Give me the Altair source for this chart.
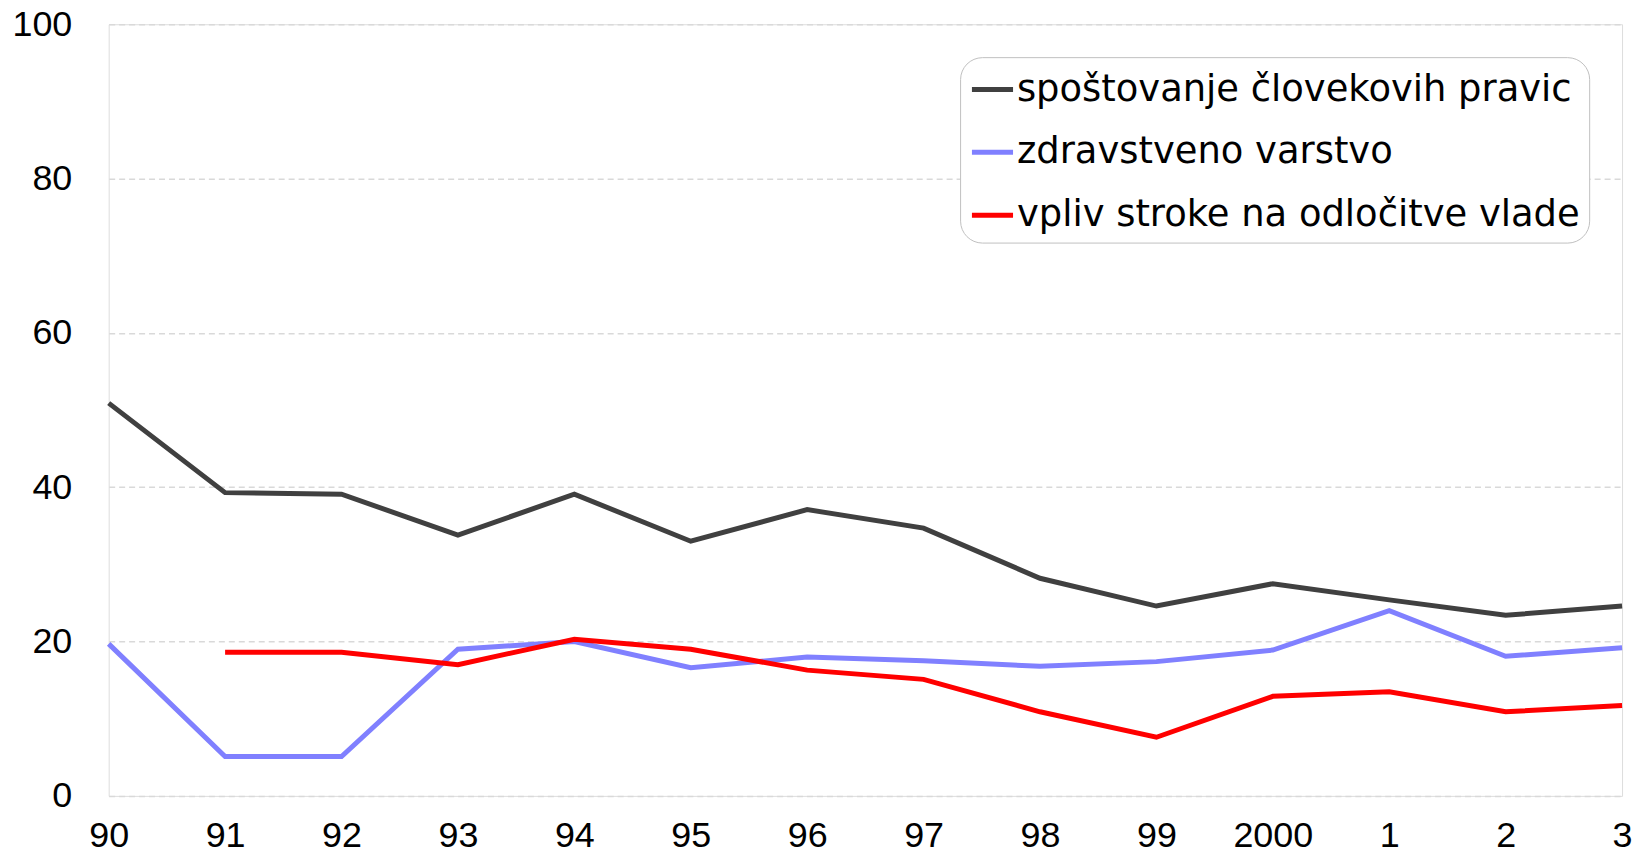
import altair as alt
import pandas as pd

years = ["90", "91", "92", "93", "94", "95", "96", "97", "98", "99", "2000", "1", "2", "3"]
series_names = [
    "spoštovanje človekovih pravic",
    "zdravstveno varstvo",
    "vpliv stroke na odločitve vlade",
]
human_rights = [50.9, 39.3, 39.1, 33.8, 39.1, 33.0, 37.1, 34.7, 28.2, 24.6, 27.5, 25.4, 23.4, 24.6]
health_care = [19.7, 5.1, 5.1, 19.0, 20.0, 16.6, 18.0, 17.5, 16.8, 17.4, 18.9, 24.0, 18.1, 19.2]
expert_influence = [None, 18.6, 18.6, 17.0, 20.3, 19.0, 16.3, 15.1, 10.9, 7.6, 12.9, 13.5, 10.9, 11.7]
colors = ["#404040", "#8080ff", "#ff0000"]

rows = []
for name, vals in zip(series_names, [human_rights, health_care, expert_influence]):
    for y, v in zip(years, vals):
        if v is not None:
            rows.append({"leto": y, "vrednost": v, "serija": name})
df = pd.DataFrame(rows)

chart = (
    alt.Chart(df)
    .mark_line(strokeWidth=5)
    .encode(
        x=alt.X(
            "leto:O",
            sort=years,
            scale=alt.Scale(type="point", padding=0),
            axis=alt.Axis(
                title=None,
                labelAngle=0,
                ticks=False,
                domain=False,
                grid=False,
                labelFont="Liberation Sans",
                labelFontSize=36,
                labelColor="#000000",
                labelPadding=23,
            ),
        ),
        y=alt.Y(
            "vrednost:Q",
            scale=alt.Scale(domain=[0, 100], nice=False),
            axis=alt.Axis(
                title=None,
                values=[0, 20, 40, 60, 80, 100],
                ticks=False,
                domain=False,
                grid=True,
                gridColor="#d9d9d9",
                gridDash=[6, 4],
                gridWidth=1.5,
                labelFont="Liberation Sans",
                labelFontSize=36,
                labelColor="#000000",
                labelPadding=37,
            ),
        ),
        color=alt.Color(
            "serija:N",
            sort=series_names,
            scale=alt.Scale(domain=series_names, range=colors),
            legend=alt.Legend(
                title=None,
                orient="none",
                legendX=854,
                legendY=33,
                strokeColor="#c0c0c0",
                cornerRadius=22,
                fillColor="#ffffff",
                padding=9,
                symbolType="stroke",
                symbolSize=1700,
                symbolStrokeWidth=5,
                labelFont="DejaVu Sans",
                labelFontSize=37,
                labelColor="#000000",
                labelOffset=1,
                rowPadding=21,
                labelLimit=1000,
            ),
        ),
    )
    .properties(
        width=1518,
        height=774,
        autosize=alt.AutoSizeParams(type="none"),
        padding={"left": 101, "top": 15, "right": 20, "bottom": 61},
    )
    .configure_view(stroke="#c8c8c8", strokeWidth=1.5)
    .configure_legend(strokeWidth=3)
    .configure(background="#ffffff")
)

chart.save("out.html", embed_options={"renderer": "svg", "actions": False})
